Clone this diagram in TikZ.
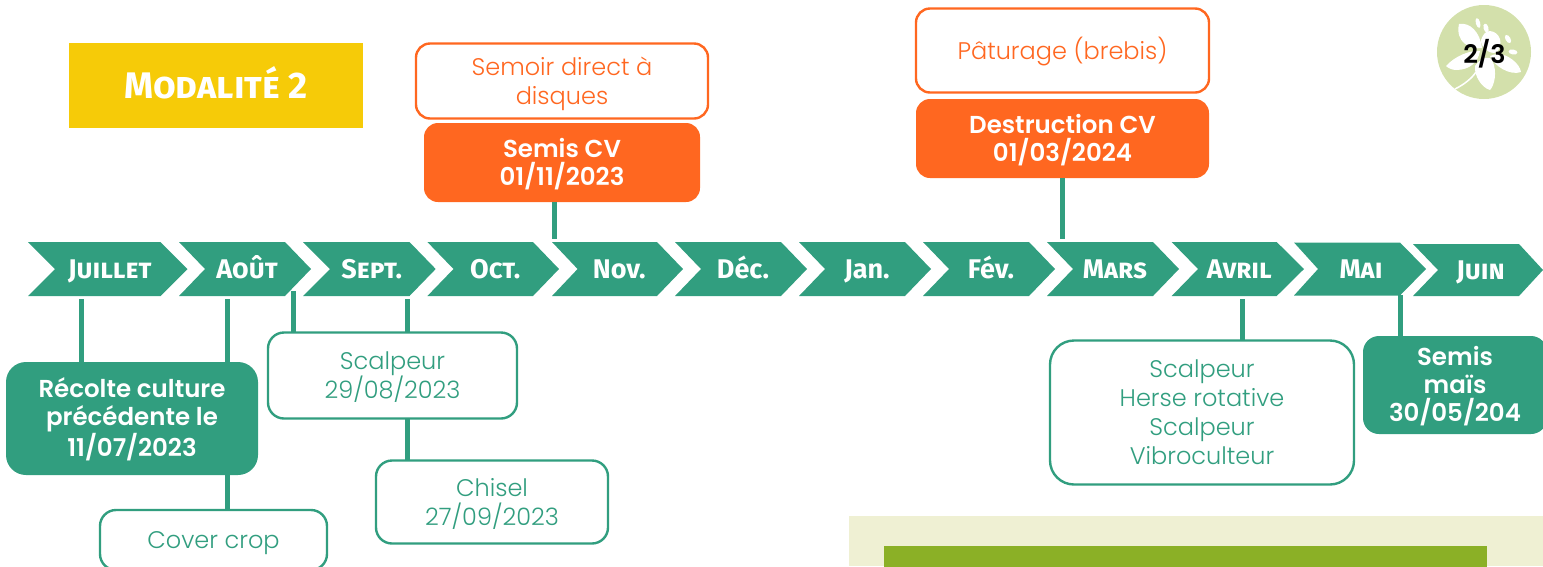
\documentclass[tikz,border=0pt]{standalone}
\usepackage{fontspec}
\setmainfont[BoldFont={Poppins SemiBold}]{Poppins Light}
\newfontfamily\hdsc[Letters=SmallCaps]{Fira Sans}
\newfontfamily\hdlc{Fira Sans}
\definecolor{teal1}{HTML}{319E7F}
\definecolor{orange1}{HTML}{FF6720}
\definecolor{yellow1}{HTML}{F6CB08}
\definecolor{panel1}{HTML}{EFF0D3}
\definecolor{panel2}{HTML}{8BB026}
\definecolor{round1}{HTML}{D3E0AB}
\newcommand{\tsa}{\rule{0pt}{24pt}}
\newcommand{\tsb}{\rule[-7pt]{0pt}{7pt}}
\tikzset{
  every node/.style={inner sep=0pt,outer sep=0pt,align=center},
  link/.style={draw=teal1,line width=5pt},
  tbox/.style={draw=teal1,fill=white,line width=2.4pt,rounded corners=16pt,text=teal1,font=\fontsize{24}{29}\selectfont},
  fbox/.style={fill=teal1,rounded corners=20pt,text=white,font=\fontsize{24.5}{28}\selectfont\bfseries},
  obox/.style={draw=orange1,fill=white,line width=2.4pt,rounded corners=14pt,text=orange1,font=\fontsize{24}{29}\selectfont},
  ofbox/.style={fill=orange1,rounded corners=14pt,text=white,font=\fontsize{24.5}{28}\selectfont\bfseries},
  monthsc/.style={text=white,text height=18.6pt,text depth=0pt,font=\fontsize{27}{30}\selectfont\hdsc\bfseries},
  monthlc/.style={text=white,text height=18.6pt,text depth=0pt,font=\fontsize{27}{30}\selectfont\hdlc\bfseries},
}
\newcommand{\chev}[8]{%
  \fill[teal1] (#1,#5)--(#3,#5)--(#4,{(#5+#6)/2})--(#3,#6)--(#1,#6)--(#2,{(#5+#6)/2})--cycle;
  \node[#7] at ({(#2+#3)/2+2},{(#5+#6)/2}) {#8};
}
\begin{document}
\begin{tikzpicture}[x=1pt,y=-1pt]
\useasboundingbox (0,0) rectangle (1543,566);
\clip (0,0) rectangle (1543,566);
% bottom panel
\fill[panel1] (849,516) rectangle (1543,566);
\node[fill=panel2,minimum width=603pt,minimum height=40pt,anchor=north west] (pt) at (884,546) {};
% badge
\node[circle,fill=round1,minimum size=94pt] (badge) at (1484,52) {};
\fill[white] (1459,24) .. controls (1470,22) and (1480,32) .. (1482,48) .. controls (1470,50) and (1455,42) .. (1459,24) -- cycle;
\fill[white] (1490,31) .. controls (1500,32) and (1504,44) .. (1497,52) .. controls (1490,56) and (1480,46) .. (1481,40) .. controls (1483,34) and (1486,31) .. (1490,31) -- cycle;
\fill[white] (1446,66) .. controls (1455,56) and (1470,50) .. (1480,51) .. controls (1478,62) and (1470,70) .. (1456,70) .. controls (1452,70) and (1448,68) .. (1446,66) -- cycle;
\fill[white] (1498,54) .. controls (1508,54) and (1520,64) .. (1521,72) .. controls (1510,76) and (1494,66) .. (1490,56) .. controls (1492,55) and (1495,54) .. (1498,54) -- cycle;
\fill[white] (1475,66) .. controls (1482,56) and (1490,56) .. (1492,60) .. controls (1498,72) and (1494,86) .. (1490,90) .. controls (1482,88) and (1474,76) .. (1475,66) -- cycle;
\draw[white,line width=1.5pt] (1455,89) .. controls (1465,84) and (1472,78) .. (1476,72);
\fill[white,rotate around={15:(1478,23)}] (1478,23) ellipse (2.2pt and 5pt);
\fill[white,rotate around={15:(1486,28)}] (1486,28) ellipse (2.5pt and 4.5pt);
\fill[white,rotate around={30:(1508,39)}] (1508,39) ellipse (2.5pt and 4.5pt);
\fill[white,rotate around={80:(1513,52)}] (1513,52) ellipse (2.5pt and 4.5pt);
\node[font=\fontsize{25.5}{28}\selectfont\bfseries,text=black] at (1484.5,53.5) {2/3};
% title
\node[fill=yellow1,minimum width=294pt,minimum height=85pt,text height=25.5pt,text depth=0pt,text=white,font=\fontsize{37}{40}\selectfont\hdsc\bfseries] (title) at (216,85.5) {Modalité 2};
% top boxes
\node[obox,minimum width=292pt,minimum height=75pt] (semoir) at (562,81) {\tsa Semoir direct à\\\tsb disques};
\node[ofbox,minimum width=276pt,minimum height=79pt] (semis) at (562,162.5) {\tsa Semis CV\\\tsb 01/11/2023};
\node[obox,minimum width=293pt,minimum height=84pt] (patur) at (1062.5,50.5) {\tsa\tsb Pâturage (brebis)};
\node[ofbox,minimum width=293pt,minimum height=79pt] (destr) at (1062.5,138.5) {\tsa Destruction CV\\\tsb 01/03/2024};
% timeline
\coordinate (tnov) at (554,239);
\coordinate (tmars) at (1062,239);
\draw[link] (semis.south -| tnov) -- (tnov);
\draw[link] (destr.south -| tmars) -- (tmars);
\chev{28}{55}{160.5}{187.5}{242}{296}{monthsc}{Juillet}
\chev{179}{205}{285}{311}{242}{296}{monthsc}{Août}
\chev{303}{330}{409.5}{435.7}{242}{296}{monthsc}{Sept.}
\chev{427.4}{453.5}{533}{559}{242}{296}{monthsc}{Oct.}
\chev{552}{577.6}{657}{683}{242}{296}{monthlc}{Nov.}
\chev{675}{701}{781}{807}{242}{296}{monthlc}{Déc.}
\chev{799}{825}{905}{931}{242}{296}{monthlc}{Jan.}
\chev{923}{949}{1029}{1055}{242}{296}{monthlc}{Fév.}
\chev{1047}{1073}{1153}{1179}{242}{296}{monthsc}{Mars}
\chev{1171.7}{1198}{1276.7}{1304}{242}{296}{monthsc}{Avril}
\chev{1294}{1318}{1400}{1426}{242.5}{295.5}{monthsc}{Mai}
\chev{1413}{1438}{1519}{1543}{244}{296}{monthsc}{Juin}
% lower boxes
\node[fbox,minimum width=252pt,minimum height=113pt] (recolte) at (132,418.5) {\tsa Récolte culture\\précédente le\\\tsb 11/07/2023};
\node[tbox,minimum width=227pt,minimum height=60pt] (cover) at (213.5,540) {\tsa\tsb Cover crop};
\node[tbox,minimum width=249pt,minimum height=86pt] (scal) at (392.5,375.5) {\tsa Scalpeur\\\tsb 29/08/2023};
\node[tbox,minimum width=232pt,minimum height=83pt] (chisel) at (492,502) {\tsa Chisel\\\tsb 27/09/2023};
\node[tbox,minimum width=304pt,minimum height=144pt,rounded corners=24pt] (tech) at (1202,412.5) {\tsa Scalpeur\\Herse rotative\\Scalpeur\\\tsb Vibroculteur};
\node[fbox,minimum width=184pt,minimum height=98pt,rounded corners=16pt] (mais) at (1455,385) {\tsa Semis\\maïs\\\tsb 30/05/204};
\coordinate (tjuil) at (81,299);
\coordinate (taout) at (227,299);
\coordinate (tfin) at (293,291);
\coordinate (tsept) at (407,299);
\coordinate (tavr) at (1242,299);
\coordinate (tmai) at (1400.5,295);
\draw[link] (tjuil) -- (recolte.north -| tjuil);
\draw[link] (taout) -- (recolte.north -| taout);
\draw[link] (recolte.south -| taout) -- (cover.north -| taout);
\draw[link] (tfin) -- (scal.north -| tfin);
\draw[link] (tsept) -- (scal.north -| tsept);
\draw[link] (scal.south -| tsept) -- (chisel.north -| tsept);
\draw[link] (tavr) -- (tech.north -| tavr);
\draw[link] (tmai) -- (mais.north -| tmai);
\end{tikzpicture}
\end{document}
